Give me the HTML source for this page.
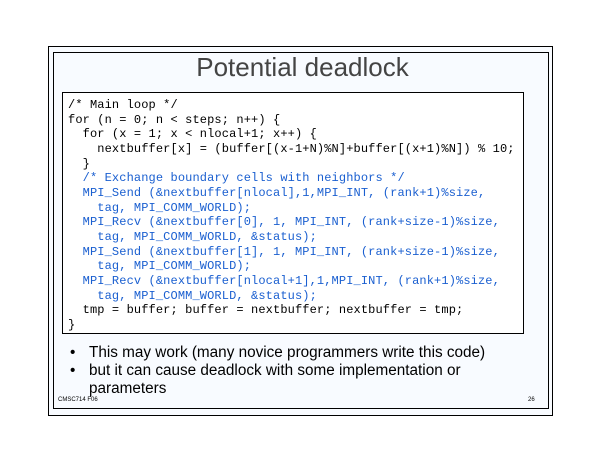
<!DOCTYPE html>
<html><head><style>
body{margin:0;width:605px;height:467px;background:#fff;position:relative;overflow:hidden;font-family:"Liberation Sans",sans-serif}
.a{position:absolute}
pre{margin:0;font-family:"Liberation Mono",monospace;font-size:12px;line-height:14.67px;letter-spacing:0.12px;color:#000}
.b{color:#1a5fd0}
</style></head><body>
<div class="a" style="left:48px;top:46px;width:503px;height:368px;border:1px solid #000;background:#f8fbff"></div>
<div class="a" style="left:53px;top:52px;width:494px;height:355px;border:1px solid #000"></div>
<div class="a" style="left:0;width:605px;top:52px;text-align:center;font-size:26px;color:#444">Potential deadlock</div>
<div class="a" style="left:62px;top:92px;width:460px;height:240px;border:1px solid #000;background:#fff"></div>
<pre class="a" style="left:68px;top:98px">/* Main loop */
for (n = 0; n &lt; steps; n++) {
  for (x = 1; x &lt; nlocal+1; x++) {
    nextbuffer[x] = (buffer[(x-1+N)%N]+buffer[(x+1)%N]) % 10;
  }
<span class="b">  /* Exchange boundary cells with neighbors */
  MPI_Send (&amp;nextbuffer[nlocal],1,MPI_INT, (rank+1)%size,
    tag, MPI_COMM_WORLD);
  MPI_Recv (&amp;nextbuffer[0], 1, MPI_INT, (rank+size-1)%size,
    tag, MPI_COMM_WORLD, &amp;status);
  MPI_Send (&amp;nextbuffer[1], 1, MPI_INT, (rank+size-1)%size,
    tag, MPI_COMM_WORLD);
  MPI_Recv (&amp;nextbuffer[nlocal+1],1,MPI_INT, (rank+1)%size,
    tag, MPI_COMM_WORLD, &amp;status);</span>
  tmp = buffer; buffer = nextbuffer; nextbuffer = tmp;
}</pre>
<div class="a" style="left:70px;top:344px;font-size:15.3px;line-height:18px;color:#000">
<div>•<span style="position:absolute;left:19px;white-space:nowrap">This may work (many novice programmers write this code)</span></div>
<div>•<span style="position:absolute;left:19px;white-space:nowrap;top:18px">but it can cause deadlock with some implementation or</span></div>
<div><span style="position:absolute;left:19px;white-space:nowrap;top:36px">parameters</span></div>
</div>
<div class="a" style="left:58px;top:397px;font-size:6px">CMSC714 F06</div>
<div class="a" style="left:528px;top:397px;font-size:6px">26</div>
</body></html>
